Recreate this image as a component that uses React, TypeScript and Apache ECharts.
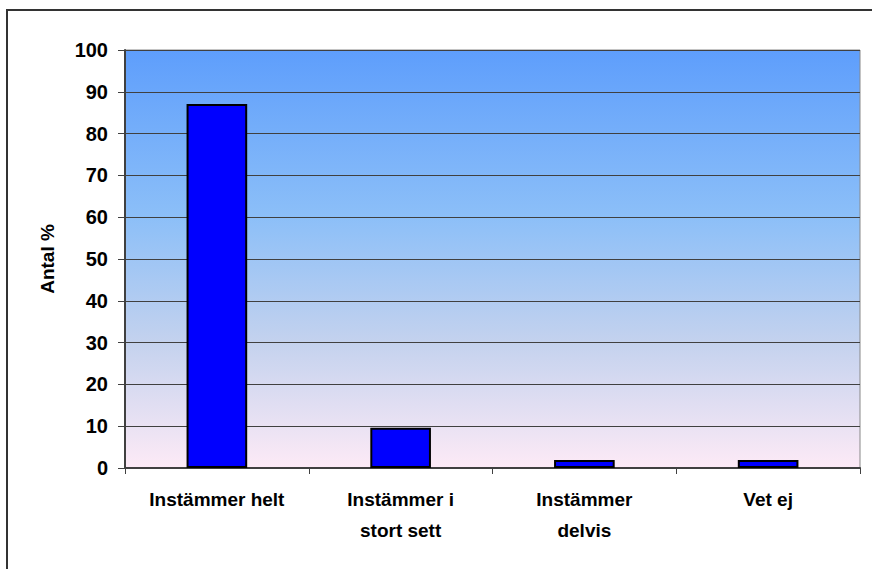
import React, { useEffect, useRef } from "react";
import * as echarts from "echarts";

const categories = ["Instämmer helt", "Instämmer i\nstort sett", "Instämmer\ndelvis", "Vet ej"];
const values = [87.1, 9.6, 1.9, 1.9];
const yAxisName = "Antal %";

export default function App() {
  const ref = useRef<HTMLDivElement>(null);
  useEffect(() => {
    const chart = echarts.init(ref.current!, null, { renderer: "svg" });
    const font = "'Liberation Sans', Arial, sans-serif";
    chart.setOption({
      animation: false,
      backgroundColor: "#ffffff",
      graphic: [
        {
          type: "rect",
          shape: { x: 7, y: 10, width: 900, height: 600 },
          style: { fill: "none", stroke: "#333333", lineWidth: 2 },
          silent: true,
        },
      ],
      grid: {
        left: 125,
        right: 12,
        top: 50,
        bottom: 101,
        show: true,
        borderColor: "#888888",
        borderWidth: 1,
        backgroundColor: {
          type: "linear",
          x: 0,
          y: 0,
          x2: 0,
          y2: 1,
          colorStops: [
            { offset: 0, color: "#5e9efc" },
            { offset: 0.4, color: "#8cbff8" },
            { offset: 0.7, color: "#c4d2ee" },
            { offset: 1, color: "#fdeaf6" },
          ],
        },
      },
      xAxis: {
        type: "category",
        data: categories,
        axisLine: { lineStyle: { color: "#404040", width: 2 } },
        axisTick: { show: true, interval: 0, length: 6, lineStyle: { color: "#404040", width: 1 } },
        axisLabel: {
          interval: 0,
          margin: 16,
          color: "#000",
          fontFamily: font,
          fontWeight: "bold",
          fontSize: 19,
          lineHeight: 31,
        },
      },
      yAxis: {
        type: "value",
        min: 0,
        max: 100,
        interval: 10,
        name: yAxisName,
        nameLocation: "middle",
        nameGap: 68,
        nameTextStyle: { color: "#000", fontFamily: font, fontWeight: "bold", fontSize: 19 },
        axisLine: { show: true, lineStyle: { color: "#404040", width: 2 } },
        axisTick: { show: true, length: 7, lineStyle: { color: "#404040" } },
        axisLabel: { margin: 17, color: "#000", fontFamily: font, fontWeight: "bold", fontSize: 20 },
        splitLine: { show: true, lineStyle: { color: "#404040", width: 1 } },
      },
      series: [
        {
          type: "bar",
          data: values,
          barWidth: "33%",
          itemStyle: { color: "#0000ff", borderColor: "#000000", borderWidth: 2 },
        },
      ],
    });
    return () => chart.dispose();
  }, []);
  return (
    <div
      ref={ref}
      style={{ position: "fixed", left: 0, top: 0, width: 872, height: 569 }}
    />
  );
}
